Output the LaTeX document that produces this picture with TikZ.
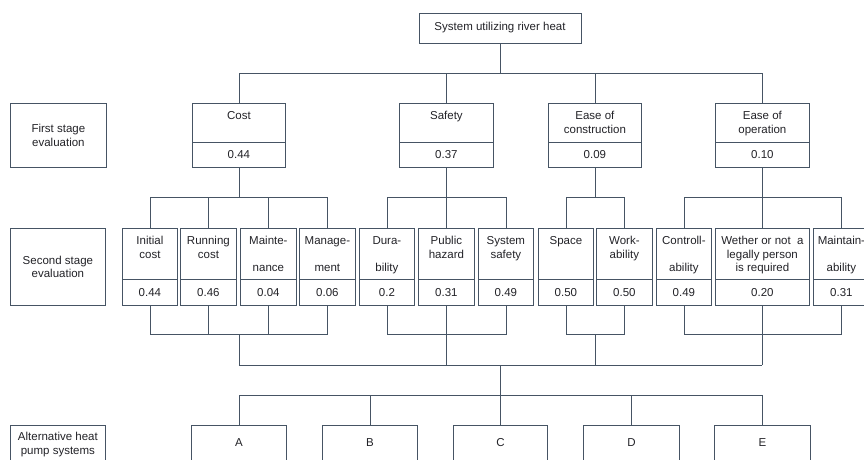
\documentclass[tikz,border=0pt]{standalone}
\usepackage{fontspec}
\setmainfont{Liberation Sans}
\definecolor{linec}{RGB}{70,84,100}
\definecolor{txtc}{RGB}{35,35,40}
\tikzset{
  cell/.style={draw=linec, line width=0.8pt, inner sep=0pt, font=\fontsize{11.5}{13.5}\selectfont, text=txtc, align=center},
  txt/.style={inner sep=0pt, font=\fontsize{11.5}{13.5}\selectfont, text=txtc, align=center},
  conn/.style={draw=linec, line width=0.8pt},
}
\newcommand\firstcrit[5]{%
  \node[cell, anchor=north west, minimum width={(#3-#2)*1pt}, minimum height=39pt] (#1) at (#2,103) {};
  \node[txt, anchor=north, yshift=-7pt] (#1t) at (#1.north) {\strut #4};
  \node[cell, anchor=north west, minimum width={(#3-#2)*1pt}, minimum height=25pt] (#1v) at (#2,142) {#5};
}
\newcommand\secondcrit[5]{%
  \node[cell, anchor=north west, minimum width={(#3-#2)*1pt}, minimum height=51pt] (#1) at (#2,228) {};
  \node[txt, anchor=north, yshift=-7pt] (#1t) at (#1.north) {\strut #4};
  \node[cell, anchor=north west, minimum width={(#3-#2)*1pt}, minimum height=26pt] (#1v) at (#2,279) {#5};
}
\newcommand\altbox[4]{%
  \node[cell, anchor=north west, minimum width={(#3-#2)*1pt}, minimum height=50pt] (#1) at (#2,425) {};
  \node[txt, anchor=base, yshift=-21.5pt] (#1t) at (#1.north) {#4};
}
\begin{document}
\begin{tikzpicture}[x=1pt,y=-1pt]
\useasboundingbox (0,0) rectangle (864,459);
\clip (0,0) rectangle (864,459);
\fill[white] (0,0) rectangle (864,459);

% top
\node[cell, minimum width=162pt, minimum height=30pt] (top) at (500,28) {System utilizing river heat};

% stage labels
\node[cell, anchor=north west, minimum width=96pt, minimum height=64pt] (l1) at (10,103) {First stage\\evaluation};
\node[cell, anchor=north west, minimum width=95pt, minimum height=77pt] (l2) at (10,228) {Second stage\\evaluation};
\node[cell, anchor=north west, minimum width=95pt, minimum height=50pt] (l3) at (10,425) {};
\node[txt, anchor=north, yshift=-6pt] (l3t) at (l3.north) {\strut Alternative heat\\pump systems};

% first stage
\firstcrit{cost}{192}{285}{Cost}{0.44}
\firstcrit{safety}{399}{493}{Safety}{0.37}
\firstcrit{constr}{548}{641}{Ease of\\construction}{0.09}
\firstcrit{oper}{715}{809}{Ease of\\operation}{0.10}

% second stage
\secondcrit{s1}{122}{177}{Initial\\cost}{0.44}
\secondcrit{s2}{180}{236}{Running\\cost}{0.46}
\secondcrit{s3}{240}{296}{Mainte-\\[13.5pt]nance}{0.04}
\secondcrit{s4}{299}{355}{Manage-\\[13.5pt]ment}{0.06}
\secondcrit{s5}{359}{414}{Dura-\\[13.5pt]bility}{0.2}
\secondcrit{s6}{418}{474}{Public\\hazard}{0.31}
\secondcrit{s7}{478}{533}{System\\safety}{0.49}
\secondcrit{s8}{538}{593}{Space}{0.50}
\secondcrit{s9}{596}{652}{Work-\\ability}{0.50}
\secondcrit{s10}{656}{711}{Controll-\\[13.5pt]ability}{0.49}
\secondcrit{s11}{715}{809}{Wether or not\ \ a\\legally person\\is required}{0.20}
\secondcrit{s12}{813}{869}{Maintain-\\[13.5pt]ability}{0.31}

% alternatives
\altbox{A}{191}{286}{A}
\altbox{B}{322}{417}{B}
\altbox{C}{453}{547}{C}
\altbox{D}{583}{679}{D}
\altbox{E}{714}{810}{E}

% connectors: top to first stage
\coordinate (b0) at (500,73);
\draw[conn] (top.south) -- (b0);
\draw[conn] (cost.north) |- (oper.north |- b0) -- (oper.north);
\draw[conn] (safety.north) -- (safety.north |- b0);
\draw[conn] (constr.north) -- (constr.north |- b0);

% first stage to second stage
\coordinate (b1) at (0,197);
\draw[conn] (costv.south) -- (costv.south |- b1);
\draw[conn] (s1.north) |- (s4.north |- b1) -- (s4.north);
\draw[conn] (s2.north) -- (s2.north |- b1);
\draw[conn] (s3.north) -- (s3.north |- b1);
\draw[conn] (safetyv.south) -- (safetyv.south |- b1);
\draw[conn] (s5.north) |- (s7.north |- b1) -- (s7.north);
\draw[conn] (s6.north) -- (s6.north |- b1);
\draw[conn] (constrv.south) -- (constrv.south |- b1);
\draw[conn] (s8.north) |- (s9.north |- b1) -- (s9.north);
\draw[conn] (operv.south) -- (operv.south |- b1);
\draw[conn] (s10.north) |- (s12.north |- b1) -- (s12.north);
\draw[conn] (s11.north) -- (s11.north |- b1);

% second stage to groups
\coordinate (b2) at (0,334);
\coordinate (b3) at (0,365);
\coordinate (b4) at (0,395);
\draw[conn] (s1v.south) |- (s4v.south |- b2) -- (s4v.south);
\draw[conn] (s2v.south) -- (s2v.south |- b2);
\draw[conn] (s3v.south) -- (s3v.south |- b2);
\draw[conn] (s5v.south) |- (s7v.south |- b2) -- (s7v.south);
\draw[conn] (s6v.south) -- (s6v.south |- b2);
\draw[conn] (s8v.south) |- (s9v.south |- b2) -- (s9v.south);
\draw[conn] (s10v.south) |- (s12v.south |- b2) -- (s12v.south);
\draw[conn] (s11v.south) -- (s11v.south |- b2);

\draw[conn] (costv.south |- b2) -- (costv.south |- b3);
\draw[conn] (safetyv.south |- b2) -- (safetyv.south |- b3);
\draw[conn] (constrv.south |- b2) -- (constrv.south |- b3);
\draw[conn] (operv.south |- b2) -- (operv.south |- b3);
\draw[conn] (costv.south |- b3) -- (operv.south |- b3);

% to alternatives
\draw[conn] (C.north |- b3) -- (C.north);
\draw[conn] (A.north) |- (E.north |- b4) -- (E.north);
\draw[conn] (B.north) -- (B.north |- b4);
\draw[conn] (D.north) -- (D.north |- b4);
\end{tikzpicture}
\end{document}
